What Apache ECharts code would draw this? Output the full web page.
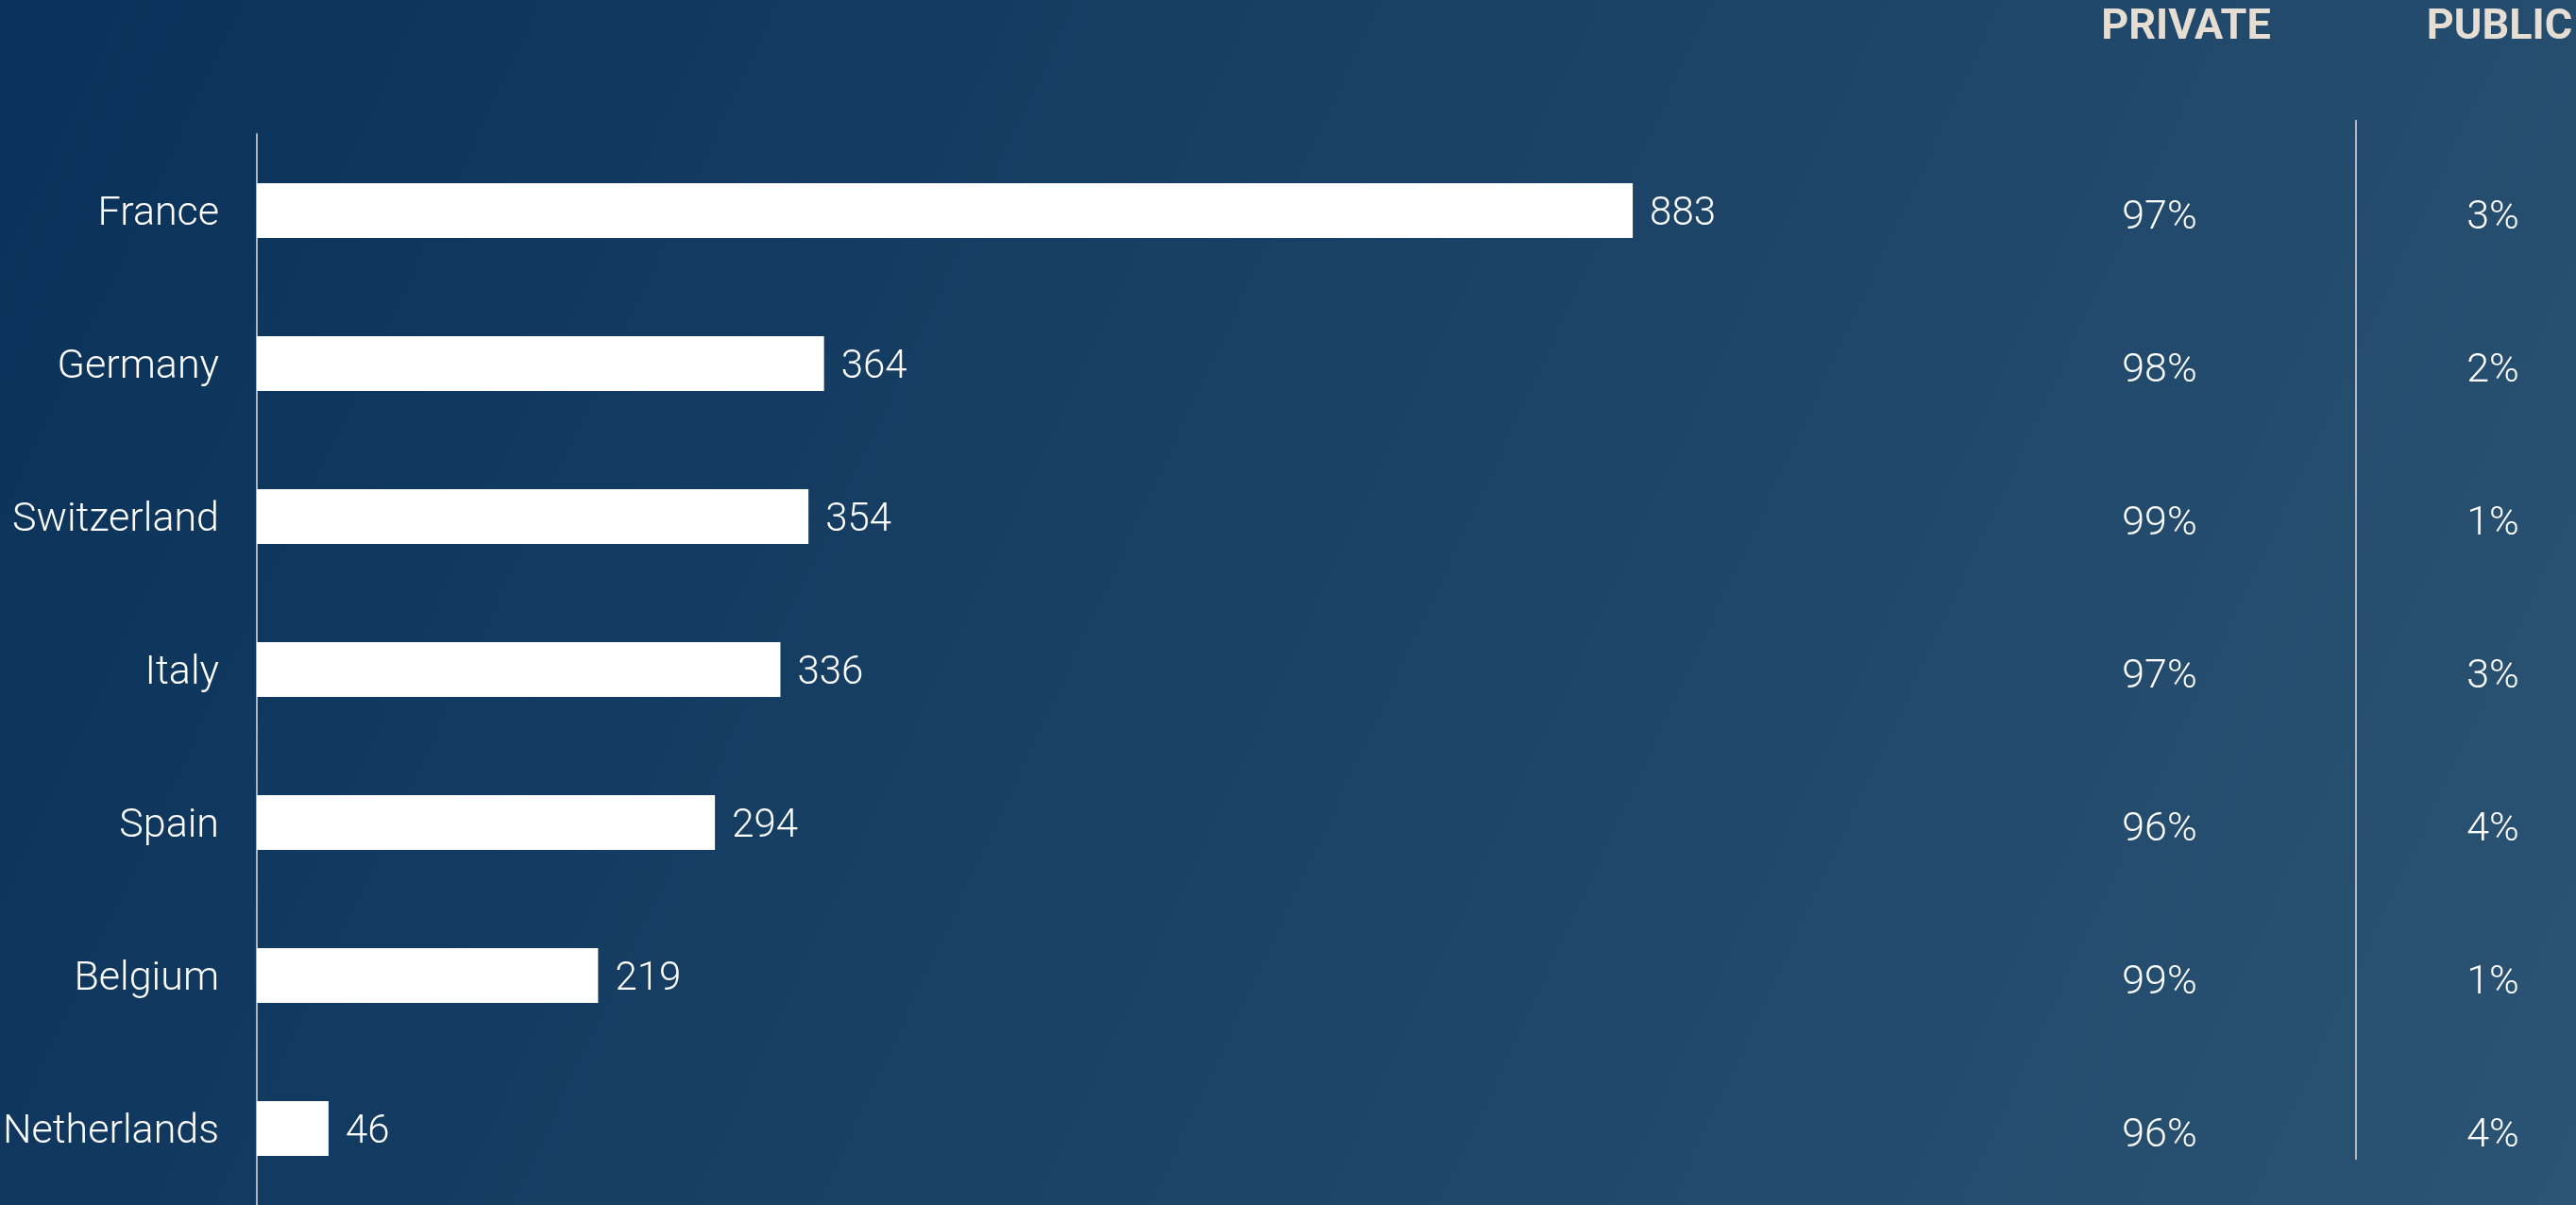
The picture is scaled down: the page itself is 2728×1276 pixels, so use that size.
<!DOCTYPE html>
<html>
<head>
<meta charset="utf-8">
<title>Private vs public</title>
<script src="https://cdn.jsdelivr.net/npm/echarts@6/dist/echarts.min.js"></script>
<style>
  html, body { margin: 0; padding: 0; width: 100%; height: 100%; overflow: hidden; }
  #chart { width: 2728px; height: 1276px; }
</style>
</head>
<body>
<div id="chart"></div>
<script>
// Countries, top to bottom
const countries = ['France', 'Germany', 'Switzerland', 'Italy', 'Spain', 'Belgium', 'Netherlands'];
// Totals drawn as bars
const totals = [883, 364, 354, 336, 294, 219, 46];
// Share split, in percent
const privateShare = [97, 98, 99, 97, 96, 99, 96];
const publicShare = [3, 2, 1, 3, 4, 1, 4];
// Column headings for the share table
const columns = ['PRIVATE', 'PUBLIC'];

const FONT = 'Roboto, "Noto Sans", sans-serif';

const chart = echarts.init(document.getElementById('chart'), null, { renderer: 'canvas' });

// Share table points: [column index, country, value]
const shareData = [];
countries.forEach((c, i) => {
  shareData.push([0, c, privateShare[i]]);
  shareData.push([1, c, publicShare[i]]);
});

const option = {
  backgroundColor: {
    type: 'linear', x: 0, y: 0, x2: 1, y2: 1,
    colorStops: [
      { offset: 0, color: '#0a3159' },
      { offset: 1, color: '#2b5373' }
    ]
  },
  animation: false,
  grid: [
    { left: 271, top: 142, width: 1600, bottom: -4 },
    { left: 2287, top: 142, width: 353, bottom: -4 }
  ],
  xAxis: [
    { gridIndex: 0, type: 'value', min: 0, max: 969, show: false },
    { gridIndex: 1, type: 'value', min: 0, max: 1, show: false }
  ],
  yAxis: [
    {
      gridIndex: 0, type: 'category', data: countries, inverse: true,
      axisLine: { show: true, lineStyle: { color: '#aab3bf', width: 2 } },
      axisTick: { show: false },
      axisLabel: {
        color: '#ffffff', fontFamily: FONT, fontWeight: 300, fontSize: 43, margin: 40,
        verticalAlign: 'top', lineHeight: 8
      }
    },
    {
      gridIndex: 1, type: 'category', data: countries, inverse: true, show: false
    }
  ],
  series: [
    {
      type: 'bar', xAxisIndex: 0, yAxisIndex: 0, data: totals, barWidth: 58,
      itemStyle: { color: '#ffffff' },
      label: {
        show: true, position: 'right', distance: 18, offset: [0, 4],
        color: '#ffffff', fontFamily: FONT, fontWeight: 300, fontSize: 42
      }
    },
    {
      type: 'scatter', xAxisIndex: 1, yAxisIndex: 1, data: shareData,
      symbolSize: 1, silent: true,
      itemStyle: { color: 'rgba(0,0,0,0)', opacity: 1 },
      label: {
        show: true, position: 'inside', offset: [0, 8],
        formatter: p => p.value[2] + '%',
        color: '#ffffff', fontFamily: FONT, fontWeight: 300, fontSize: 43
      }
    }
  ],
  graphic: [
    {
      type: 'text',
      style: {
        text: columns[0], x: 0, y: 0, align: 'center', verticalAlign: 'middle',
        fill: '#e6ded3', font: 'bold 45px ' + FONT
      },
      x: 2315, y: 30
    },
    {
      type: 'text',
      style: {
        text: columns[1], x: 0, y: 0, align: 'center', verticalAlign: 'middle',
        fill: '#e6ded3', font: 'bold 45px ' + FONT
      },
      x: 2647, y: 30
    },
    {
      type: 'line',
      shape: { x1: 2495, y1: 127, x2: 2495, y2: 1228 },
      style: { stroke: '#b3b8c0', lineWidth: 2 }
    }
  ]
};

chart.setOption(option);
</script>
</body>
</html>
